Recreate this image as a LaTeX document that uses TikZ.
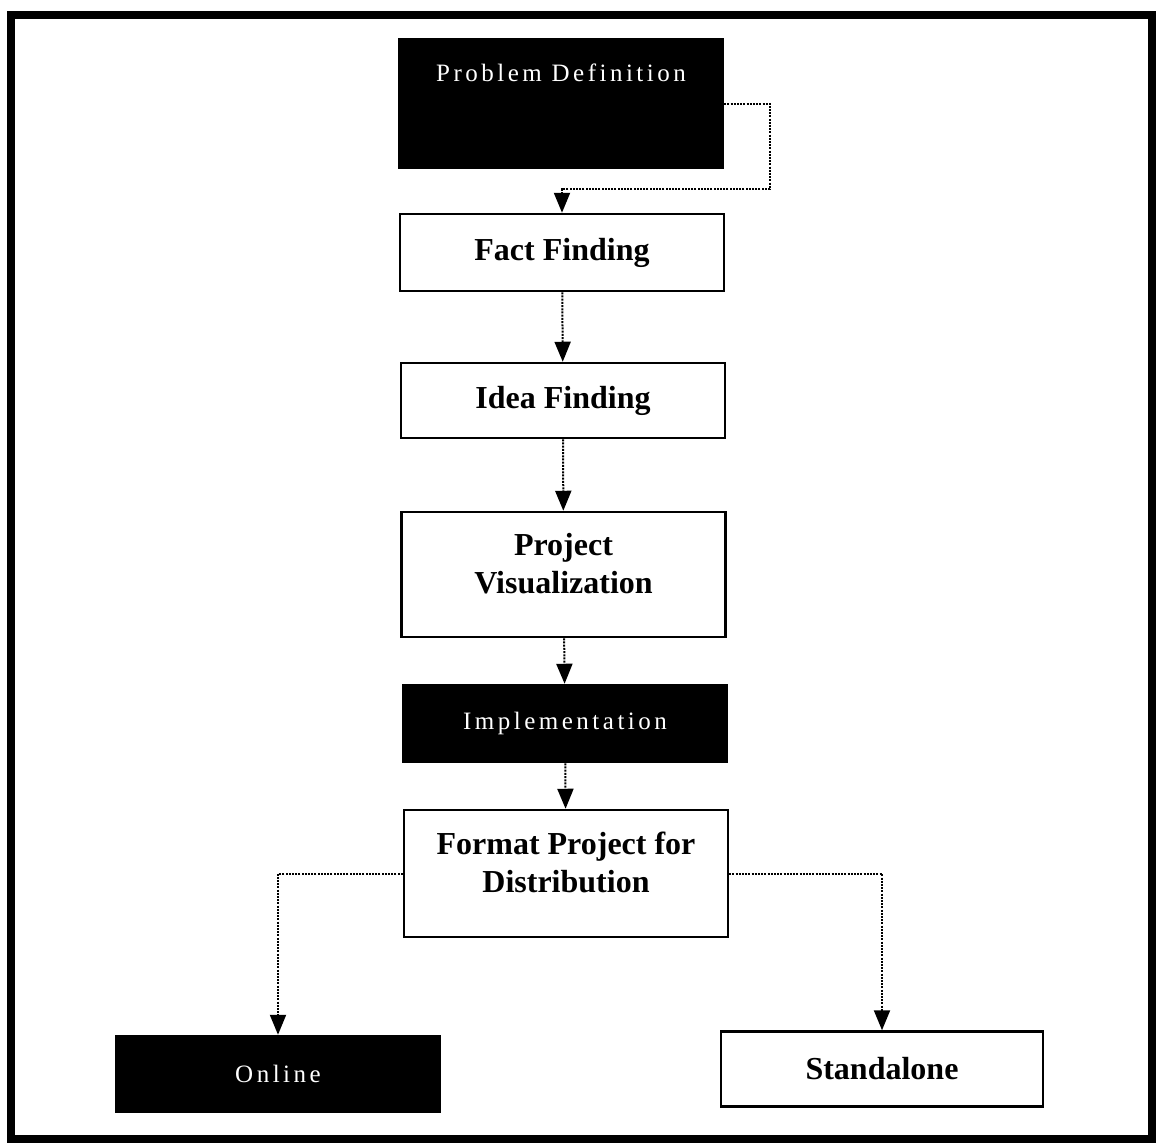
\documentclass[tikz,border=0pt]{standalone}
\usepackage{fontspec}
\setmainfont{Liberation Serif}
\newfontfamily\spacedfont[LetterSpace=14]{Liberation Serif}
\usetikzlibrary{arrows.meta}

\begin{document}
\begin{tikzpicture}[x=1pt,y=-1pt,
  lightbox/.style={rectangle,draw=black,line width=2.5pt,fill=white,inner sep=0pt,
    minimum width=324pt,align=center,font=\bfseries\fontsize{32}{38}\selectfont},
  darkbox/.style={lightbox,fill=black,text=white,font=\spacedfont\fontsize{25}{30}\selectfont},
  link/.style={line width=2pt,dash pattern=on 2pt off 1.2pt,-{Triangle[length=20pt,width=16pt]}}]
  \useasboundingbox (0,0) rectangle (1162,1144);

  % Marco exterior
  \draw[line width=8pt] (11,15) rectangle (1152,1139);

  % Cajas de la columna central
  \node[darkbox,text height=42pt,text depth=87pt] (pd) at (561,103.5) {Problem Definition};
  \node[lightbox,minimum height=77pt] (ff) at (562,252.5) {Fact Finding};
  \node[lightbox,minimum height=75pt] (idf) at (563,400.5) {Idea Finding};
  \node[lightbox,minimum height=125pt] (pv) at (563.5,574.5) {Project\\Visualization\\[-16pt]~};
  \node[darkbox,minimum height=77pt] (impl) at (565,723.5) {Implementation};
  \node[lightbox,minimum height=127pt] (fmt) at (566,873.5) {Format Project for\\Distribution\\[-16pt]~};

  % Cajas de abajo
  \node[darkbox,minimum height=76pt] (onl) at (278,1074) {Online};
  \node[lightbox,minimum width=322pt,minimum height=75pt] (sta) at (882,1069) {Standalone};

  % Vuelta desde Problem Definition
  \coordinate (c1) at (770,189);
  \draw[link] (pd.east) -| (c1) -| (ff.north);

  % Flechas verticales
  \foreach \from/\to in {ff/idf, idf/pv, pv/impl, impl/fmt}
    \draw[link] (\from) -- (\to);

  % Ramas hacia Online y Standalone
  \draw[link] (fmt.west) -| (onl.north);
  \draw[link] (fmt.east) -| (sta.north);
\end{tikzpicture}
\end{document}
